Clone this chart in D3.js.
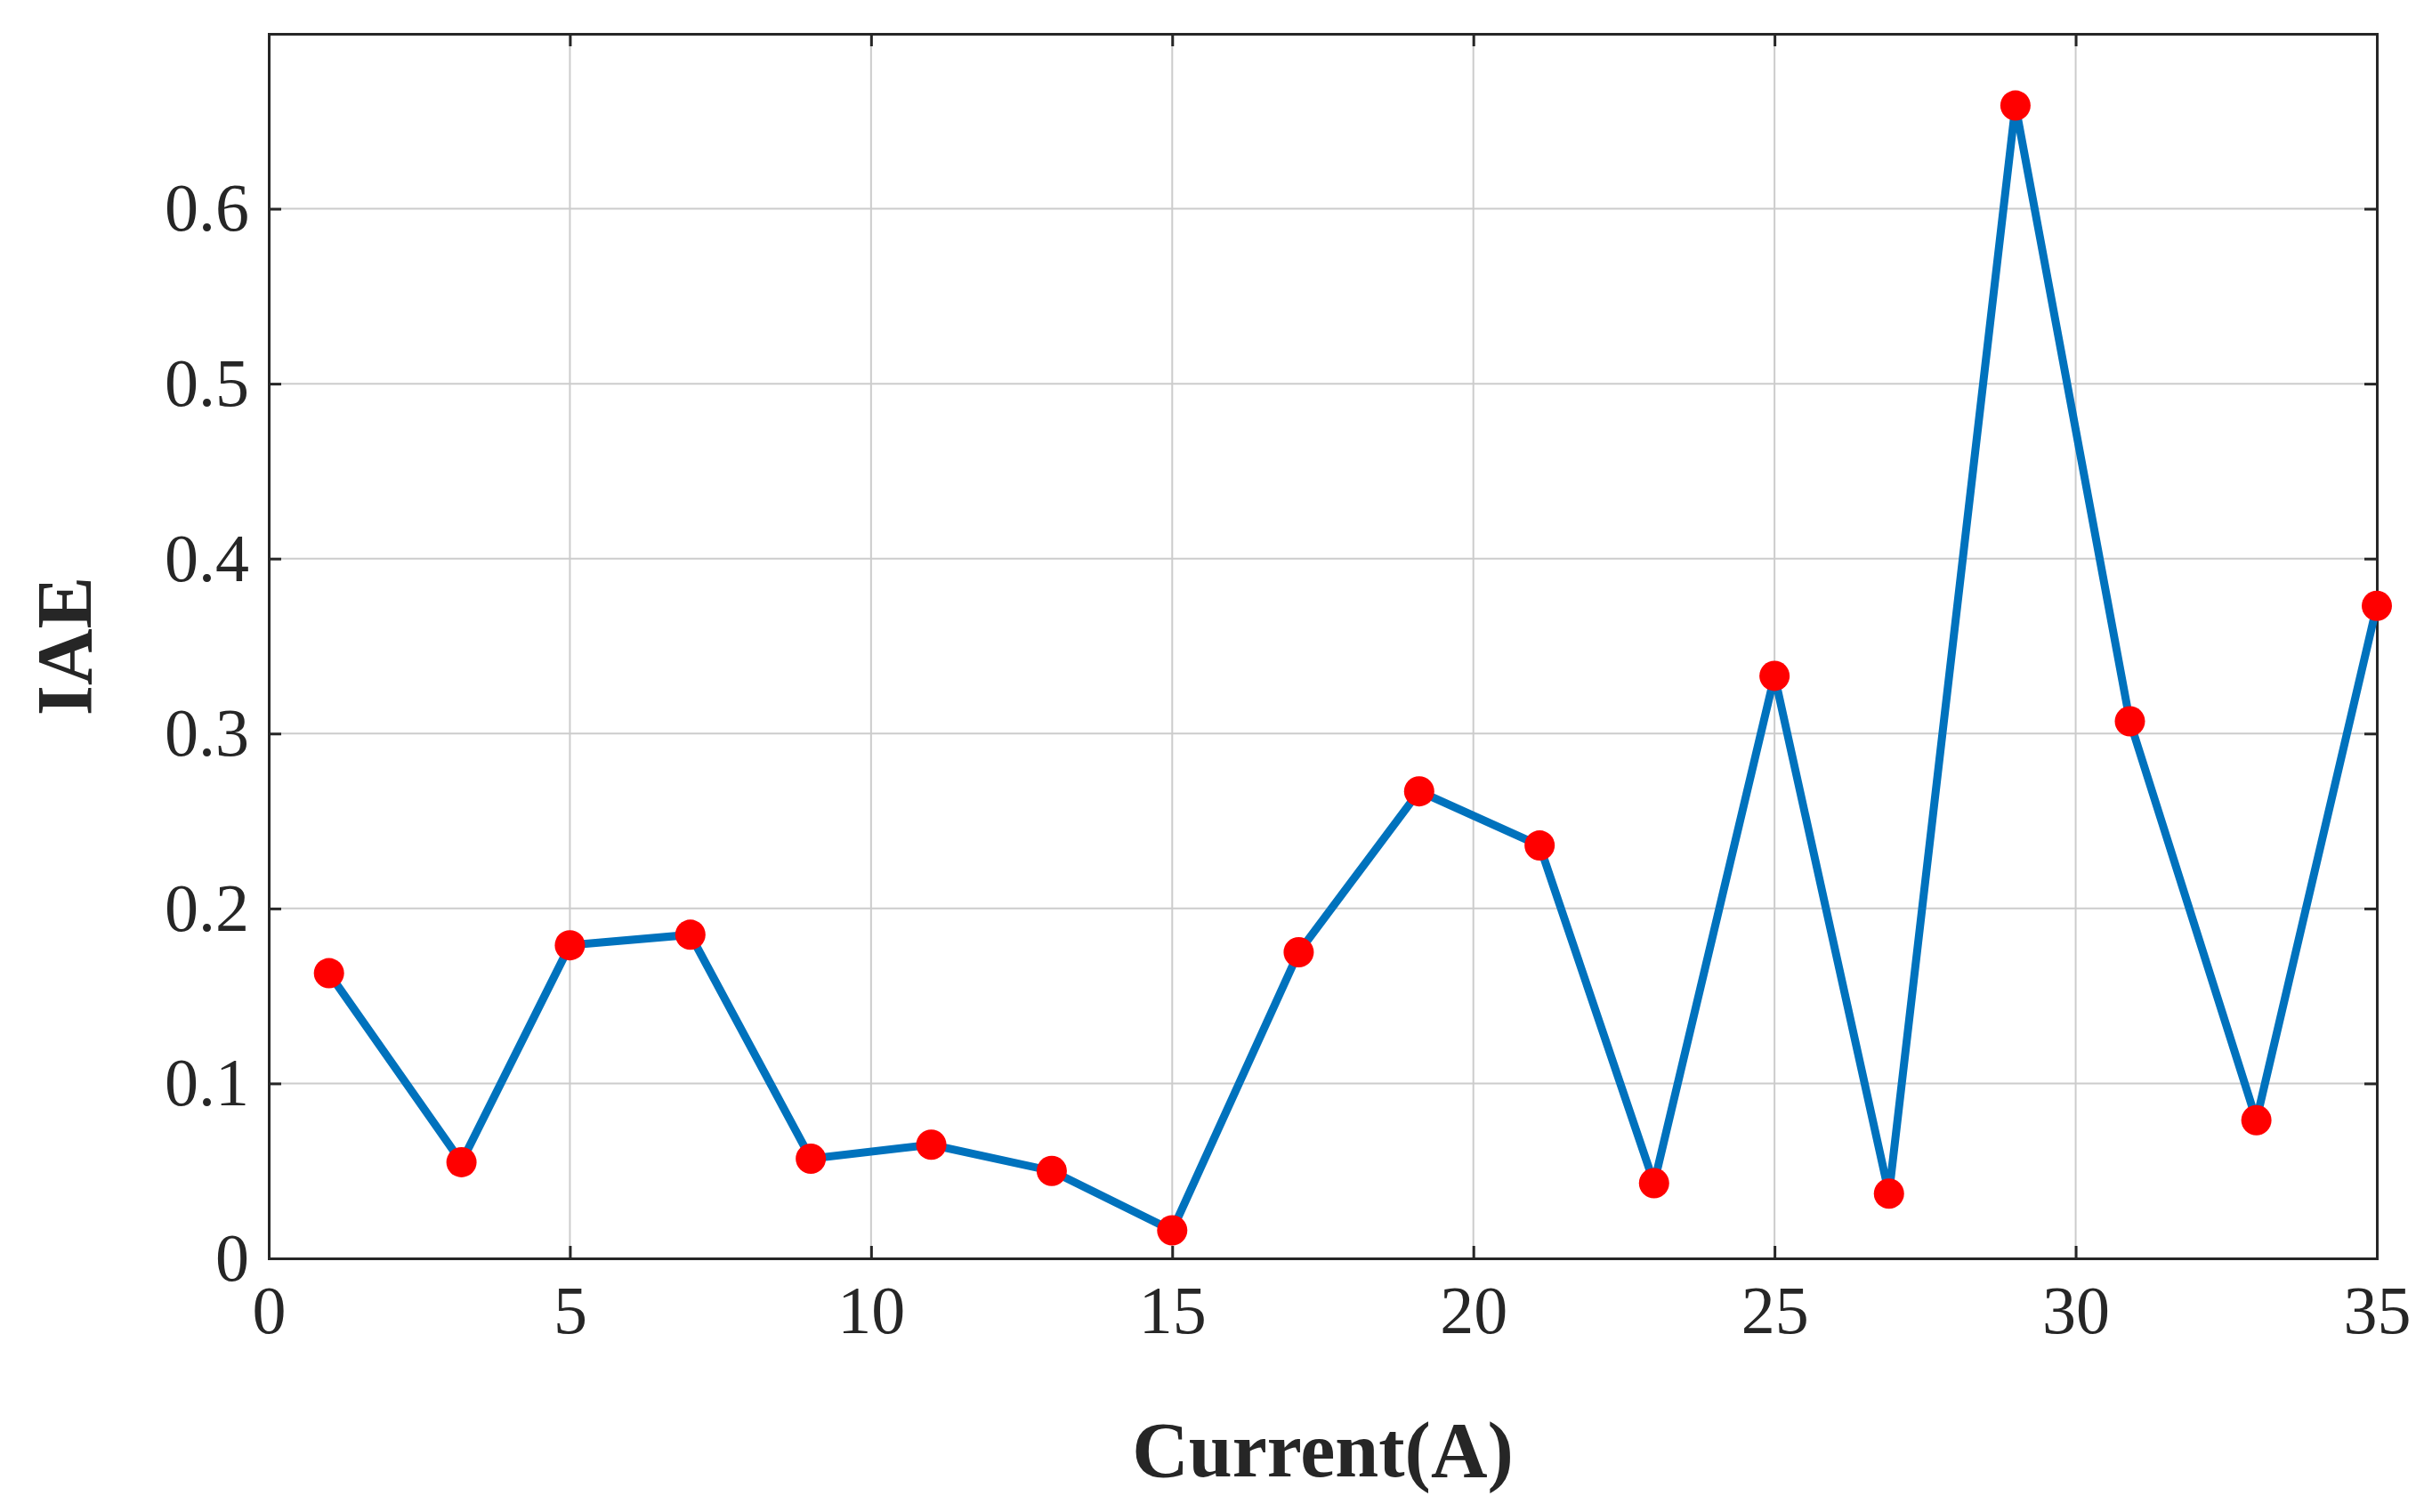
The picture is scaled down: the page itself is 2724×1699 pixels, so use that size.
<!DOCTYPE html>
<html><head><meta charset="utf-8">
<script src="https://cdn.jsdelivr.net/npm/d3@7"></script>
<style>body{margin:0;background:#fff}</style></head>
<body><svg id="chart"></svg>
<script>
const currents = [1, 3.2, 5, 7, 9, 11, 13, 15, 17.1, 19.1, 21.1, 23, 25, 26.9, 29, 30.9, 33, 35];
const iaeValues = [0.163, 0.055, 0.179, 0.185, 0.057, 0.065, 0.050, 0.016, 0.175, 0.267, 0.236, 0.043, 0.333, 0.037, 0.659, 0.307, 0.079, 0.373];
const xTicks = [0, 5, 10, 15, 20, 25, 30, 35];
const yTicks = [0, 0.1, 0.2, 0.3, 0.4, 0.5, 0.6];

const W = 2724, H = 1699;
const margin = { top: 38, right: 53, bottom: 285, left: 302 };
const width = W - margin.left - margin.right;
const height = H - margin.top - margin.bottom;

const svg = d3.select('#chart').attr('width', W).attr('height', H)
    .append('g').attr('transform', `translate(${margin.left},${margin.top})`);

const x = d3.scaleLinear().domain([0, 35]).range([0, width]);
const y = d3.scaleLinear().domain([0, 0.7]).range([height, 0]);

// grid
svg.selectAll('.gx').data(xTicks).enter().append('line')
    .attr('x1', d => x(d)).attr('x2', d => x(d)).attr('y1', 0).attr('y2', height)
    .attr('stroke', '#ccc').attr('stroke-width', 2);
svg.selectAll('.gy').data(yTicks).enter().append('line')
    .attr('x1', 0).attr('x2', width).attr('y1', d => y(d)).attr('y2', d => y(d))
    .attr('stroke', '#ccc').attr('stroke-width', 2);

const font = '"Liberation Serif", "Times New Roman", serif';
const xAxis = svg.append('g').attr('transform', `translate(0,${height})`)
    .call(d3.axisBottom(x).tickValues(xTicks).tickSize(-14).tickPadding(30).tickFormat(d3.format('d')));
const xAxisTop = svg.append('g')
    .call(d3.axisTop(x).tickValues(xTicks).tickSize(-14).tickFormat(''));
const yAxis = svg.append('g')
    .call(d3.axisLeft(y).tickValues(yTicks).tickSize(-14).tickPadding(22).tickFormat(d => d === 0 ? '0' : d3.format('.1f')(d)));
const yAxisR = svg.append('g').attr('transform', `translate(${width},0)`)
    .call(d3.axisRight(y).tickValues(yTicks).tickSize(-14).tickFormat(''));
[xAxis, xAxisTop, yAxis, yAxisR].forEach(a => {
    a.selectAll('path,line').attr('stroke', '#262626').attr('stroke-width', 3);
    a.selectAll('text').attr('font-family', font).attr('font-size', 76).attr('fill', '#262626');
});

// line + points
svg.append('path').datum(currents.map((c, i) => [c, iaeValues[i]]))
    .attr('d', d3.line().x(d => x(d[0])).y(d => y(d[1])))
    .attr('fill', 'none').attr('stroke', '#0072BD').attr('stroke-width', 9);
svg.selectAll('.pt').data(currents).enter().append('circle')
    .attr('cx', d => x(d)).attr('cy', (d, i) => y(iaeValues[i])).attr('r', 17)
    .attr('fill', '#ff0000');

// labels
svg.append('text').attr('x', width / 2).attr('y', height + 245)
    .attr('text-anchor', 'middle').attr('font-family', font).attr('font-weight', 'bold')
    .attr('font-size', 88).attr('fill', '#262626').text('Current(A)');
svg.append('text').attr('transform', `translate(-200,${height / 2}) rotate(-90)`)
    .attr('text-anchor', 'middle').attr('font-family', font).attr('font-weight', 'bold')
    .attr('font-size', 88).attr('fill', '#262626').text('IAE');
</script></body></html>
